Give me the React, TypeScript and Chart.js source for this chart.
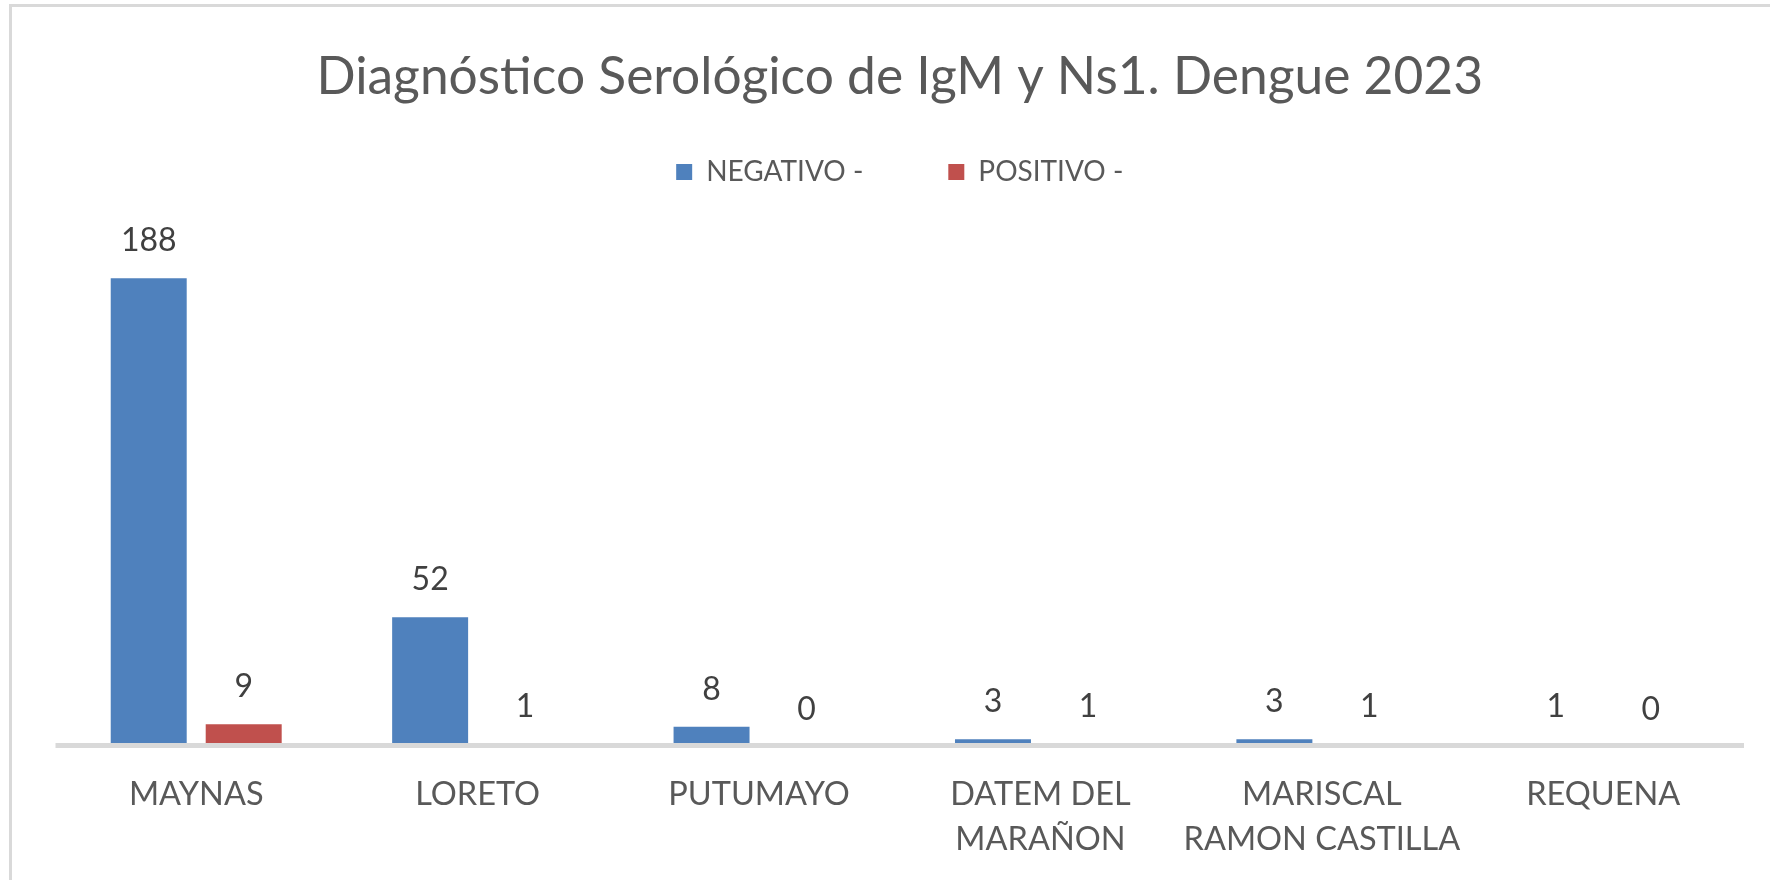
import React, { useEffect, useRef } from 'react';
import { Chart, registerables } from 'chart.js';

Chart.register(...registerables);

const TITLE = 'Diagnóstico Serológico de IgM y Ns1. Dengue 2023';
const CATEGORIES: (string | string[])[] = [
  'MAYNAS',
  'LORETO',
  'PUTUMAYO',
  ['DATEM DEL', 'MARAÑON'],
  ['MARISCAL', 'RAMON CASTILLA'],
  'REQUENA',
];
const SERIES_NAMES = ['NEGATIVO -', 'POSITIVO -'];
const NEGATIVO = [188, 52, 8, 3, 3, 1];
const POSITIVO = [9, 1, 0, 1, 1, 0];
const Y_MAX = 200;

const FONT = 'Lato';
const BLUE = '#4F81BD';
const RED = '#C0504D';
const GRID = '#D9D9D9';

const framePlugin = {
  id: 'frame',
  beforeDraw(chart: any) {
    const { ctx, width, height } = chart;
    ctx.save();
    ctx.fillStyle = '#ffffff';
    ctx.fillRect(0, 0, width, height);
    ctx.fillStyle = GRID;
    ctx.fillRect(9, 4, width - 9, 3);
    ctx.fillRect(9, 4, 3, height - 4);
    ctx.restore();
  },
};

const baselinePlugin = {
  id: 'baseline',
  afterDatasetsDraw(chart: any) {
    const { ctx, chartArea, scales } = chart;
    const y0 = scales.y.getPixelForValue(0);
    ctx.save();
    ctx.fillStyle = GRID;
    ctx.fillRect(chartArea.left, Math.floor(y0 - 3), chartArea.right - chartArea.left, 5);
    ctx.restore();
  },
};

const valueLabelPlugin = {
  id: 'valueLabels',
  afterDatasetsDraw(chart: any) {
    const { ctx } = chart;
    ctx.save();
    ctx.font = `32px ${FONT}`;
    ctx.fillStyle = '#404040';
    ctx.textAlign = 'center';
    ctx.textBaseline = 'alphabetic';
    chart.data.datasets.forEach((ds: any, di: number) => {
      const meta = chart.getDatasetMeta(di);
      meta.data.forEach((bar: any, i: number) => {
        const v = ds.data[i];
        ctx.fillText(String(v), bar.x, bar.y - 27);
      });
    });
    ctx.restore();
  },
};

export default function App() {
  const ref = useRef<HTMLCanvasElement | null>(null);

  useEffect(() => {
    if (!ref.current) return;
    Chart.defaults.font.family = FONT;
    const chart = new Chart(ref.current, {
      type: 'bar',
      data: {
        labels: CATEGORIES as any,
        datasets: [
          {
            label: SERIES_NAMES[0],
            data: NEGATIVO,
            backgroundColor: BLUE,
            categoryPercentage: 0.675,
            barPercentage: 0.8,
          },
          {
            label: SERIES_NAMES[1],
            data: POSITIVO,
            backgroundColor: RED,
            categoryPercentage: 0.675,
            barPercentage: 0.8,
          },
        ],
      },
      options: {
        animation: false,
        responsive: true,
        maintainAspectRatio: false,
        layout: { padding: { left: 55.5, right: 26, top: 0, bottom: 19 } },
        plugins: {
          title: {
            display: true,
            text: TITLE,
            color: '#595959',
            font: { family: FONT, size: 51.5, weight: 'normal' as any, lineHeight: 1.2 },
            padding: { top: 46.1, bottom: -34.9 },
          },
          legend: {
            display: true,
            position: 'top',
            labels: {
              color: '#595959',
              font: { family: FONT, size: 28 },
              boxWidth: 16,
              boxHeight: 16,
              padding: 85,
            },
          },
          subtitle: {
            display: true,
            text: '',
            weight: 500,
            font: { size: 10, lineHeight: 1.2 },
            padding: { top: 40.4, bottom: 0 },
          } as any,
          tooltip: { enabled: false },
        },
        scales: {
          x: {
            grid: { display: false, drawTicks: false },
            border: { display: false },
            ticks: {
              color: '#595959',
              font: { family: FONT, size: 32.5, lineHeight: 1.4 },
              padding: 24.6,
              maxRotation: 0,
              autoSkip: false,
            },
            afterFit: (scale: any) => {
              scale.height = 114.2;
            },
          },
          y: {
            display: false,
            min: 0,
            max: Y_MAX,
          },
        },
      },
      plugins: [framePlugin, baselinePlugin, valueLabelPlugin],
    });
    return () => chart.destroy();
  }, []);

  return (
    <div style={{ position: 'fixed', left: 0, top: 0, width: 1770, height: 880, background: '#fff' }}>
      <canvas ref={ref} />
    </div>
  );
}
